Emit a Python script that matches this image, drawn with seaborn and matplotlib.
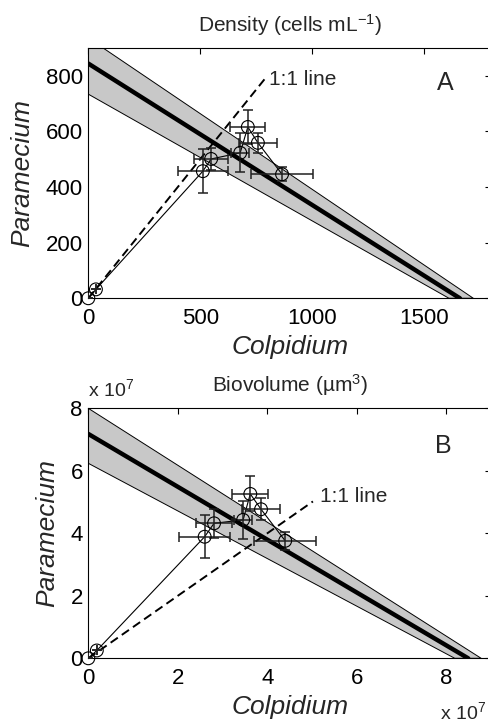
import matplotlib
matplotlib.use("Agg")
import matplotlib.pyplot as plt
import seaborn as sns
import pandas as pd

sns.set_style("white")
plt.rcParams['font.family'] = ['Liberation Sans', 'DejaVu Sans']
plt.rcParams['mathtext.fontset'] = 'custom'
plt.rcParams['mathtext.rm'] = 'Liberation Sans'
plt.rcParams['mathtext.it'] = 'Liberation Sans:italic'

# -----------------------------
# Data - panel A (density, cells/mL)
# -----------------------------
a_col = [0, 34, 512, 549, 679, 713, 758, 866]
a_par = [0, 32, 457, 501, 523, 616, 559, 446]
a_col_err = [0, 0, 111, 75, 40, 79, 86, 138]
a_par_err = [0, 0, 79, 40, 70, 61, 36, 26]
a_iso_x = [0, 1661]          # isocline fit
a_iso_y = [844, 0]
a_band_x = [0, 0, 1721, 1612]  # confidence band corners
a_band_y = [734, 936, 0, 0]
a_one_x = [0, 800]
a_one_y = [0, 800]

# -----------------------------
# Data - panel B (biovolume, um^3, units of 1e7)
# -----------------------------
b_col = [0, 0.19, 2.60, 2.81, 3.46, 3.62, 3.86, 4.40]
b_par = [0, 0.25, 3.89, 4.32, 4.43, 5.26, 4.77, 3.76]
b_col_err = [0, 0, 0.57, 0.40, 0.20, 0.40, 0.43, 0.69]
b_par_err = [0, 0, 0.68, 0.46, 0.61, 0.56, 0.35, 0.28]
b_iso_x = [0, 8.49]
b_iso_y = [7.18, 0]
b_band_x = [0, 0, 8.78, 8.19]
b_band_y = [6.24, 8.0, 0, 0]
b_one_x = [0, 5.02]
b_one_y = [0, 5.02]

fig = plt.figure(figsize=(4.89, 7.25), dpi=100)
axA = fig.add_axes([0.1806, 0.5886, 0.8235, 0.3452])
axB = fig.add_axes([0.1806, 0.0920, 0.8235, 0.3448])


def draw_panel(ax, col, par, cerr, perr, iso_x, iso_y, band_x, band_y, one_x, one_y):
    ax.fill(band_x, band_y, facecolor='#c8c8c8', edgecolor='black', lw=0.7, zorder=1)
    sns.lineplot(x=iso_x, y=iso_y, ax=ax, color='black', lw=3.2, zorder=2)
    sns.lineplot(x=one_x, y=one_y, ax=ax, color='black', lw=1.4, ls=(0, (4.5, 2.5)), zorder=3)
    traj = pd.DataFrame({'x': col, 'y': par})
    sns.lineplot(data=traj, x='x', y='y', ax=ax, sort=False, color='black', lw=0.8, zorder=3)
    ax.errorbar(col, par, xerr=cerr, yerr=perr, fmt='none', ecolor='#202020',
                elinewidth=1.1, capsize=3.5, capthick=1.1, zorder=4)
    sns.scatterplot(data=traj, x='x', y='y', ax=ax, marker='o', s=85,
                    facecolor='none', edgecolor='black', linewidth=0.8, zorder=5,
                    clip_on=False)


draw_panel(axA, a_col, a_par, a_col_err, a_par_err, a_iso_x, a_iso_y,
           a_band_x, a_band_y, a_one_x, a_one_y)
draw_panel(axB, b_col, b_par, b_col_err, b_par_err, b_iso_x, b_iso_y,
           b_band_x, b_band_y, b_one_x, b_one_y)

# limits / ticks
axA.set_xlim(0, 1800)
axA.set_ylim(0, 900)
axA.set_xticks([0, 500, 1000, 1500])
axA.set_yticks([0, 200, 400, 600, 800])
axB.set_xlim(0, 9)
axB.set_ylim(0, 8)
axB.set_xticks([0, 2, 4, 6, 8])
axB.set_yticks([0, 2, 4, 6, 8])

for ax in (axA, axB):
    for s in ax.spines.values():
        s.set_visible(True)
        s.set_color('black')
        s.set_linewidth(0.8)
    ax.tick_params(direction='in', length=4, width=0.8, top=True, right=True,
                   labelsize=16, colors='black')
    ax.tick_params(axis='x', pad=7)
    ax.tick_params(axis='y', pad=4)
    ax.set_xlabel('Colpidium', fontsize=19, style='italic', labelpad=4)
    ax.set_ylabel('Paramecium', fontsize=19, style='italic', labelpad=8)

axA.set_title('Density (cells mL$^{-1}$)', fontsize=15, pad=12)
axB.set_title('Biovolume (\u00b5m$^3$)', fontsize=15, pad=12)

axA.text(1597, 773, 'A', fontsize=18, ha='center', va='center')
axB.text(7.94, 6.79, 'B', fontsize=18, ha='center', va='center')
axA.text(809, 787, '1:1 line', fontsize=15, ha='left', va='center')
axB.text(5.17, 5.17, '1:1 line', fontsize=15, ha='left', va='center')

fig.text(88 / 489, 1 - 389 / 725, 'x 10$^7$', fontsize=14, ha='left', va='center')
fig.text(486 / 489, 1 - 712 / 725, 'x 10$^7$', fontsize=14, ha='right', va='center')

fig.savefig('out.png', dpi=100)
